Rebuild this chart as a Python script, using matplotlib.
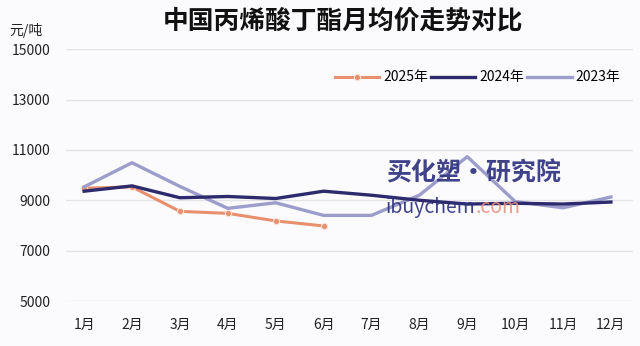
import matplotlib.pyplot as plt

plt.rcParams['font.family'] = ['Noto Sans CJK SC', 'DejaVu Sans']

months = ['1月', '2月', '3月', '4月', '5月', '6月', '7月', '8月', '9月', '10月', '11月', '12月']
price_2025 = [9480, 9530, 8560, 8480, 8180, 7980]
price_2024 = [9360, 9570, 9100, 9150, 9070, 9360, 9200, 9000, 8850, 8880, 8850, 8930]
price_2023 = [9530, 10490, 9550, 8680, 8900, 8400, 8400, 9200, 10730, 8950, 8700, 9130]
yticks = [5000, 7000, 9000, 11000, 13000, 15000]

c25 = '#E8906E'
c24 = '#2E2A6E'
c23 = '#9D9DCC'

fig = plt.figure(figsize=(6.4, 3.46), dpi=100, facecolor='#FBFBFD')
ax = fig.add_axes([0.103, 0.13, 0.886, 0.728], facecolor='#FBFBFD')

x = range(len(months))
ax.plot(range(len(price_2025)), price_2025, color=c25, lw=2.2, marker='o', ms=4.5,
        mec='#FBE3D8', mew=0.8, label='2025年', zorder=3)
ax.plot(x, price_2023, color=c23, lw=2.4, label='2023年', zorder=4)
ax.plot(x, price_2024, color=c24, lw=2.4, label='2024年', zorder=5)

ax.set_xlim(-0.38, 11.46)
ax.set_ylim(5000, 15000)
ax.set_yticks(yticks)
ax.set_xticks(list(x))
ax.set_xticklabels(months)
ax.grid(axis='y', color='#E4E4E8', lw=1)
ax.set_axisbelow(True)
for s in ax.spines.values():
    s.set_visible(False)
ax.tick_params(length=0, labelsize=10, colors='#222222')
ax.tick_params(axis='x', pad=12)
ax.tick_params(axis='y', pad=11)

handles, labels = ax.get_legend_handles_labels()
order = [0, 2, 1]
ax.legend([handles[i] for i in order], [labels[i] for i in order], ncol=3,
          loc='upper right', bbox_to_anchor=(1.0, 0.965), frameon=False,
          fontsize=10, handlelength=3.2, handletextpad=0.3, columnspacing=0.2)

fig.text(0.536, 0.94, '中国丙烯酸丁酯月均价走势对比', ha='center', va='center',
         fontsize=18.5, fontweight='bold', color='#111111')
fig.text(0.015, 0.912, '元/吨', ha='left', va='center', fontsize=10, color='#222222')

# watermark
fig.text(0.74, 0.5, '买化塑·研究院', ha='center', va='center', fontsize=18,
         fontweight='bold', style='italic', color='#2B2F7E', alpha=0.9, zorder=10)
wm = fig.text(0.603, 0.399, 'ibuychem', ha='left', va='center', fontsize=14,
              color='#2B2F7E', alpha=0.9, zorder=10)
ax.annotate('.com', xy=(1, 0.5), xycoords=wm, ha='left', va='center', fontsize=14,
            color='#E8907E', alpha=0.9, zorder=10, annotation_clip=False)

fig.savefig('out.png', dpi=100, facecolor=fig.get_facecolor())
